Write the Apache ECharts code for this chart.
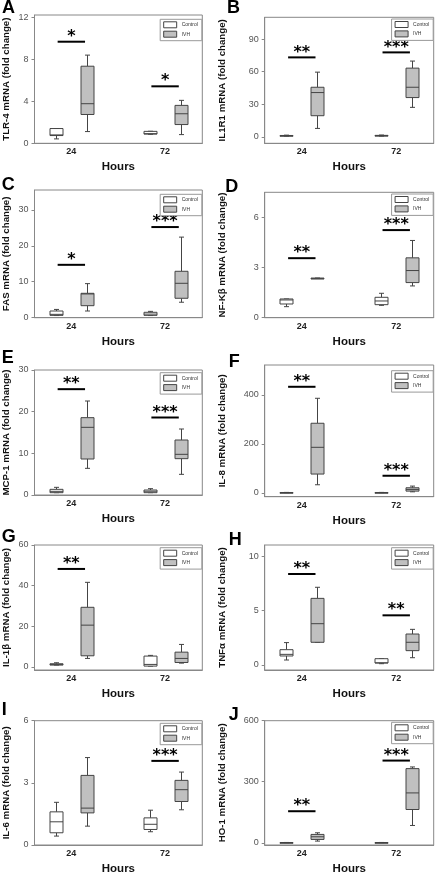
<!DOCTYPE html>
<html><head><meta charset="utf-8">
<script src="https://cdn.jsdelivr.net/npm/echarts@6/dist/echarts.min.js"></script>
<style>html,body{margin:0;padding:0;background:#fff}#c{width:435px;height:876px}</style>
</head><body><div id="c"></div><script>
// ---------- data ----------
const hours = ['24', '72'];
const groups = ['Control', 'IVH'];
const panelLetters = ['A','B','C','D','E','F','G','H','I','J'];
const yAxisNames = [
  'TLR-4 mRNA (fold change)', 'IL1R1 mRNA (fold change)',
  'FAS mRNA (fold change)', 'NF-Kβ mRNA (fold change)',
  'MCP-1 mRNA (fold change)', 'IL-8 mRNA (fold change)',
  'IL-1β mRNA (fold change)', 'TNFα mRNA (fold change)',
  'IL-6 mRNA (fold change)', 'HO-1 mRNA (fold change)'
];
// box statistics [min, Q1, median, Q3, max] for 24 h and 72 h
const tlr4Control = [[0.42, 0.74, 0.80, 1.41, 1.41], [0.86, 0.88, 0.92, 1.14, 1.15]];
const tlr4IVH     = [[1.12, 2.75, 3.78, 7.36, 8.42], [0.83, 1.79, 2.82, 3.62, 4.10]];
const il1r1Control = [[0.5, 0.8, 1.0, 1.2, 1.5], [0.6, 0.9, 1.1, 1.3, 1.6]];
const il1r1IVH     = [[7.7, 19.4, 40.7, 45.6, 59.5], [27.1, 36.1, 45.6, 63.2, 69.7]];
const fasControl = [[0.6, 0.65, 0.93, 1.86, 2.3], [0.6, 0.65, 1.0, 1.5, 1.76]];
const fasIVH     = [[1.86, 3.34, 6.6, 6.78, 9.47], [4.3, 5.4, 9.56, 12.9, 22.4]];
const nfkbControl = [[0.66, 0.82, 1.06, 1.12, 1.12], [0.74, 0.78, 1.0, 1.22, 1.46]];
const nfkbIVH     = [[2.36, 2.36, 2.36, 2.36, 2.36], [1.9, 2.1, 2.82, 3.58, 4.62]];
const mcp1Control = [[0.56, 0.56, 0.88, 1.36, 1.84], [0.56, 0.56, 0.9, 1.2, 1.52]];
const mcp1IVH     = [[6.4, 8.64, 16.24, 18.56, 22.56], [4.96, 8.72, 9.76, 13.2, 15.84]];
const il8Control = [[0.5, 0.8, 1.0, 1.2, 1.5], [0.5, 0.8, 1.0, 1.2, 1.5]];
const il8IVH     = [[32.8, 76.5, 185.7, 284, 386], [4, 6.8, 13.7, 20.5, 27.3]];
const il1bControl = [[0.82, 0.82, 1.15, 1.48, 1.97], [0.3, 0.33, 1.15, 5.26, 5.6]];
const il1bIVH     = [[4.1, 5.4, 20.5, 29.3, 41.6], [1.8, 2.1, 4.1, 7.2, 11]];
const tnfControl = [[0.46, 0.83, 0.98, 1.41, 2.06], [0.12, 0.18, 0.2, 0.58, 0.58]];
const tnfIVH     = [[2.09, 2.09, 3.8, 6.13, 7.15], [0.67, 1.32, 2.09, 2.85, 3.28]];
const il6Control = [[0.43, 0.59, 1.12, 1.6, 2.06], [0.64, 0.75, 1.0, 1.31, 1.68]];
const il6IVH     = [[0.91, 1.55, 1.78, 3.36, 4.22], [1.7, 2.1, 2.67, 3.12, 3.52]];
const ho1Control = [[0.5, 0.8, 1.0, 1.2, 1.5], [0.5, 0.8, 1.0, 1.2, 1.5]];
const ho1IVH     = [[8.2, 16.3, 29.4, 41, 49], [85, 163.5, 245, 364.5, 372.7]];
// y tick labels
const tlr4Ticks = [0, 4, 8, 12];
const il1r1Ticks = [0, 30, 60, 90];
const fasTicks = [0, 10, 20, 30];
const nfkbTicks = [0, 3, 6];
const mcp1Ticks = [0, 10, 20, 30];
const il8Ticks = [0, 200, 400];
const il1bTicks = [0, 20, 40, 60];
const tnfTicks = [0, 5, 10];
const il6Ticks = [0, 3, 6];
const ho1Ticks = [0, 300, 600];
// significance [hour index, bar level, stars]
const tlr4Sig = [[0, 9.7, '*'], [1, 5.44, '*']];
const il1r1Sig = [[0, 73.1, '**'], [1, 77.7, '***']];
const fasSig = [[0, 14.7, '*'], [1, 25.2, '***']];
const nfkbSig = [[0, 3.56, '**'], [1, 5.24, '***']];
const mcp1Sig = [[0, 25.4, '**'], [1, 18.6, '***']];
const il8Sig = [[0, 433, '**'], [1, 69.6, '***']];
const il1bSig = [[0, 48.2, '**']];
const tnfSig = [[0, 8.37, '**'], [1, 4.57, '**']];
const il6Sig = [[1, 4.06, '***']];
const ho1Sig = [[0, 155, '**'], [1, 404, '***']];

const panels = [
  [tlr4Control, tlr4IVH, tlr4Ticks, tlr4Sig],
  [il1r1Control, il1r1IVH, il1r1Ticks, il1r1Sig],
  [fasControl, fasIVH, fasTicks, fasSig],
  [nfkbControl, nfkbIVH, nfkbTicks, nfkbSig],
  [mcp1Control, mcp1IVH, mcp1Ticks, mcp1Sig],
  [il8Control, il8IVH, il8Ticks, il8Sig],
  [il1bControl, il1bIVH, il1bTicks, il1bSig],
  [tnfControl, tnfIVH, tnfTicks, tnfSig],
  [il6Control, il6IVH, il6Ticks, il6Sig],
  [ho1Control, ho1IVH, ho1Ticks, ho1Sig]
];

// ---------- layout (pixels / axis ranges) ----------
const layout = [
  {l: 34.3, t: 15,    w: 168, h: 128.3, min: 0,     max: 12.25, lt: 19.3,  lx: 2,     ly: 1.7},
  {l: 264.7, t: 17.3, w: 169, h: 126,   min: -6,    max: 110,   lt: 19,    lx: 227,   ly: 1.7},
  {l: 33.3, t: 190,   w: 169, h: 127.7, min: 0,     max: 35.5,  lt: 194.3, lx: 1.7,   ly: 178.3},
  {l: 264.7, t: 192.3,w: 169, h: 125.4, min: 0,     max: 7.5,   lt: 194,   lx: 225.3, ly: 180},
  {l: 33.3, t: 370,   w: 169, h: 125,   min: 0,     max: 30,    lt: 372.7, lx: 1.7,   ly: 351.7},
  {l: 264.7, t: 365,  w: 169, h: 131.7, min: -16,   max: 522,   lt: 370.7, lx: 228.7, ly: 355},
  {l: 33.3, t: 545,   w: 169, h: 125,   min: -1.6,  max: 60,    lt: 547.7, lx: 1.7,   ly: 530},
  {l: 264.7, t: 545,  w: 169, h: 125,   min: -0.46, max: 11.04, lt: 547.7, lx: 228.7, ly: 533.3},
  {l: 33.3, t: 720.7, w: 169, h: 125,   min: 0,     max: 6,     lt: 723.3, lx: 1.7,   ly: 703.3},
  {l: 264.7, t: 720.7,w: 169, h: 125,   min: -11,   max: 600,   lt: 722.3, lx: 228.7, ly: 708.3}
];
const W = 435;
const BOX_W = 13, CAP_W = 5, OFFSET = 15.5, SIG_HALF = 13.7;
const EDGE = '#444';
const FILLS = ['#ffffff', '#c0c0c0'];
const FONT = 'Liberation Sans, Arial, sans-serif';

function boxRenderer(offset, fill) {
  return function (params, api) {
    const idx = api.value(0);
    const cx = Math.round(api.coord([idx, 0])[0] + offset) + 0.5;
    const y = [1, 2, 3, 4, 5].map(d => api.coord([idx, api.value(d)])[1]);
    const ls = {stroke: EDGE, lineWidth: 1};
    const half = BOX_W / 2, cap = CAP_W / 2;
    return {
      type: 'group',
      children: [
        {type: 'line', shape: {x1: cx, y1: y[0], x2: cx, y2: y[1]}, style: ls},
        {type: 'line', shape: {x1: cx, y1: y[3], x2: cx, y2: y[4]}, style: ls},
        {type: 'line', shape: {x1: cx - cap, y1: y[0], x2: cx + cap, y2: y[0]}, style: ls},
        {type: 'line', shape: {x1: cx - cap, y1: y[4], x2: cx + cap, y2: y[4]}, style: ls},
        {type: 'rect', shape: {x: cx - half, y: y[3], width: BOX_W, height: Math.max(y[1] - y[3], 0.8)},
          style: {fill: fill, stroke: EDGE, lineWidth: 1}},
        {type: 'line', shape: {x1: cx - half, y1: y[2], x2: cx + half, y2: y[2]}, style: ls}
      ]
    };
  };
}
function sigRenderer(sig) {
  return function (params, api) {
    const idx = api.value(0);
    const p = api.coord([idx, api.value(1)]);
    return {
      type: 'group',
      children: [
        {type: 'line', shape: {x1: p[0] - SIG_HALF, y1: p[1], x2: p[0] + SIG_HALF, y2: p[1]},
          style: {stroke: '#000', lineWidth: 2}},
        {type: 'text', x: p[0], y: p[1] - 5,
          style: {text: sig[params.dataIndex][2], fill: '#000', font: 'bold 16px DejaVu Sans',
            align: 'center', verticalAlign: 'middle'}}
      ]
    };
  };
}

const grid = [], xAxis = [], yAxis = [], series = [], legend = [], graphic = [];
panels.forEach((pan, i) => {
  const L = layout[i];
  const [ctrl, ivh, ticks, sig] = pan;
  const step = ticks[1] - ticks[0];
  const rightCol = i % 2 === 1;
  grid.push({left: L.l, top: L.t, width: L.w, height: L.h, show: true,
    borderColor: '#888', borderWidth: 1, backgroundColor: '#fff', containLabel: false});
  xAxis.push({
    type: 'value', gridIndex: i, min: -0.393, max: 1.397, minInterval: 1, maxInterval: 1,
    axisLine: {show: true, onZero: false, lineStyle: {color: '#888'}},
    axisTick: {show: false}, splitLine: {show: false},
    axisLabel: {customValues: [0, 1], margin: 4, fontSize: 9, fontWeight: 'bold', color: '#222', fontFamily: FONT,
      formatter: v => (Math.abs(v - Math.round(v)) < 1e-6 && hours[Math.round(v)]) ? hours[Math.round(v)] : ''},
    name: 'Hours', nameLocation: 'middle', nameGap: 18,
    nameTextStyle: {fontSize: 11.5, fontWeight: 'bold', color: '#111', fontFamily: FONT}
  });
  yAxis.push({
    type: 'value', gridIndex: i, min: L.min, max: L.max, minInterval: step, maxInterval: step,
    axisLine: {show: true, onZero: false, lineStyle: {color: '#888'}},
    axisTick: {show: true, inside: false, length: 3, customValues: ticks, lineStyle: {color: '#888'}},
    splitLine: {show: false},
    axisLabel: {customValues: ticks, margin: 6, fontSize: 9, color: '#555', fontFamily: FONT,
      formatter: v => (Math.abs(v / step - Math.round(v / step)) < 1e-6) ? String(v) : ''},
    name: yAxisNames[i], nameLocation: 'middle', nameRotate: 90, nameGap: rightCol ? 37 : 23.5,
    nameTextStyle: {fontSize: 9.7, fontWeight: 'bold', color: '#111', fontFamily: FONT}
  });
  [ctrl, ivh].forEach((stats, g) => {
    series.push({
      type: 'custom', name: groups[g], xAxisIndex: i, yAxisIndex: i,
      renderItem: boxRenderer(g === 0 ? -OFFSET : OFFSET, FILLS[g]),
      data: stats.map((s, k) => [k].concat(s)),
      encode: {x: 0, y: [1, 2, 3, 4, 5]},
      itemStyle: {color: FILLS[g], borderColor: EDGE, borderWidth: 1},
      silent: true, z: 2
    });
  });
  series.push({
    type: 'custom', name: 'sig' + i, xAxisIndex: i, yAxisIndex: i,
    renderItem: sigRenderer(sig),
    data: sig.map(s => [s[0], s[1]]),
    encode: {x: 0, y: 1}, silent: true, z: 3
  });
  legend.push({
    orient: 'vertical', right: W - (L.l + L.w) + 0.5, top: L.lt,
    itemWidth: 13, itemHeight: 6, itemGap: 2.4, padding: [2, 4, 3, 3],
    borderColor: '#999', borderWidth: 1, backgroundColor: '#fff', selectedMode: false,
    textStyle: {fontSize: 5, color: '#333', fontFamily: FONT},
    data: groups.map((n, g) => ({name: n, icon: 'rect',
      itemStyle: {color: FILLS[g], borderColor: EDGE, borderWidth: 1}}))
  });
  graphic.push({type: 'text', left: L.lx, top: L.ly - 2.3,
    style: {text: panelLetters[i], font: 'bold 18px Liberation Sans', fill: '#000'}});
});

const chart = echarts.init(document.getElementById('c'), null, {renderer: 'canvas'});
chart.setOption({
  animation: false, backgroundColor: '#fff',
  grid, xAxis, yAxis, series, legend, graphic
});
</script></body></html>
